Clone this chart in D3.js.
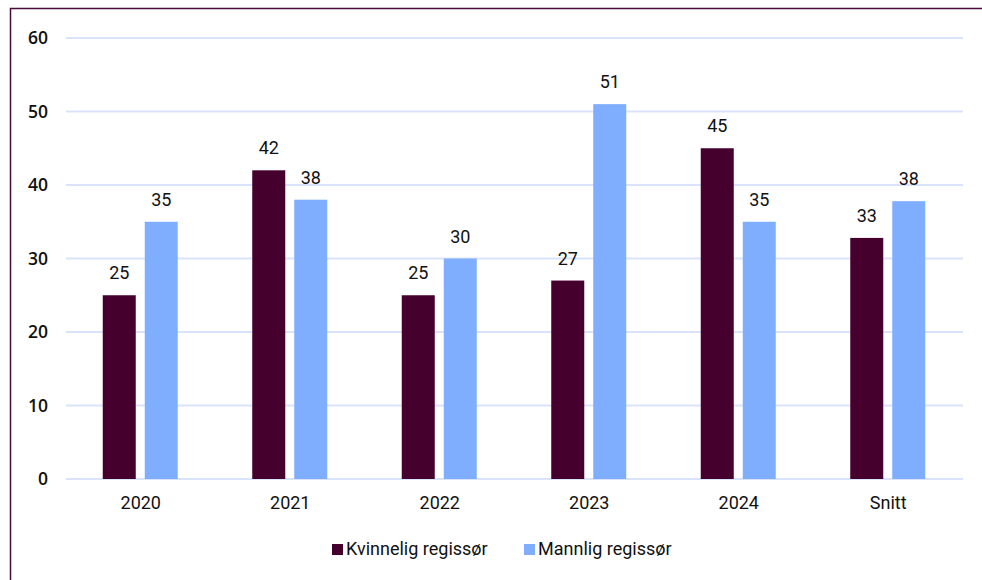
<!DOCTYPE html>
<html>
<head>
<meta charset="utf-8">
<script src="https://cdn.jsdelivr.net/npm/d3@7"></script>
<style>
  body { margin: 0; background: #fff; }
  svg { display: block; }
</style>
</head>
<body>
<div id="chart"></div>
<script>
const categories = ["2020", "2021", "2022", "2023", "2024", "Snitt"];
const kvinneligValues = [25, 42, 25, 27, 45, 32.8];
const mannligValues = [35, 38, 30, 51, 35, 37.8];
const seriesNames = ["Kvinnelig regissør", "Mannlig regissør"];
const yTicks = [0, 10, 20, 30, 40, 50, 60];

const width = 982, height = 580;
const colors = ["#45002d", "#80aeff"];

const svg = d3.select("#chart").append("svg")
    .attr("width", width)
    .attr("height", height);

// outer frame (runs off the right and bottom edge)
svg.append("rect")
    .attr("x", 10.5).attr("y", 8.5)
    .attr("width", 1000).attr("height", 600)
    .attr("fill", "none")
    .attr("stroke", "#4a0a38")
    .attr("stroke-width", 1.5);

const x = d3.scaleBand()
    .domain(categories)
    .range([66, 963]);

const y = d3.scaleLinear()
    .domain([0, 60])
    .range([479, 38]);

// gridlines
svg.append("g")
    .selectAll("line")
    .data(yTicks)
    .join("line")
    .attr("x1", 66).attr("x2", 963)
    .attr("y1", d => y(d)).attr("y2", d => y(d))
    .attr("stroke", "#d9e4fb")
    .attr("stroke-width", 2);

// y tick labels
svg.append("g")
    .selectAll("text")
    .data(yTicks)
    .join("text")
    .attr("x", 48)
    .attr("y", d => y(d) + 6)
    .attr("text-anchor", "end")
    .attr("font-family", "'Open Sans', sans-serif")
    .attr("font-weight", 600)
    .attr("font-size", 17.5)
    .attr("fill", "#111")
    .text(d => d);

const series = [kvinneligValues, mannligValues];
const offsets = [-38, 4];
const barW = 33;

series.forEach((vals, s) => {
    const g = svg.append("g");
    g.selectAll("rect")
        .data(vals)
        .join("rect")
        .attr("x", (d, i) => x(categories[i]) + x.bandwidth() / 2 + offsets[s])
        .attr("y", d => y(d))
        .attr("width", barW)
        .attr("height", d => y(0) - y(d))
        .attr("fill", colors[s]);

    g.selectAll("text")
        .data(vals)
        .join("text")
        .attr("x", (d, i) => x(categories[i]) + x.bandwidth() / 2 + offsets[s] + barW / 2)
        .attr("y", d => y(d) - 16)
        .attr("text-anchor", "middle")
        .attr("font-family", "Roboto, sans-serif")
        .attr("font-size", 18)
        .attr("fill", "#111")
        .text(d => Math.round(d));
});

// x labels
svg.append("g")
    .selectAll("text")
    .data(categories)
    .join("text")
    .attr("x", d => x(d) + x.bandwidth() / 2)
    .attr("y", 509)
    .attr("text-anchor", "middle")
    .attr("font-family", "Roboto, sans-serif")
    .attr("font-size", 18)
    .attr("fill", "#111")
    .text(d => d);

// legend
const legendX = [332, 524];
const legend = svg.append("g");
seriesNames.forEach((name, i) => {
    legend.append("rect")
        .attr("x", legendX[i]).attr("y", 544)
        .attr("width", 11).attr("height", 11)
        .attr("fill", colors[i]);
    legend.append("text")
        .attr("x", legendX[i] + 14)
        .attr("y", 555)
        .attr("font-family", "Roboto, sans-serif")
        .attr("font-size", 18)
        .attr("fill", "#111")
        .text(name);
});
</script>
</body>
</html>
